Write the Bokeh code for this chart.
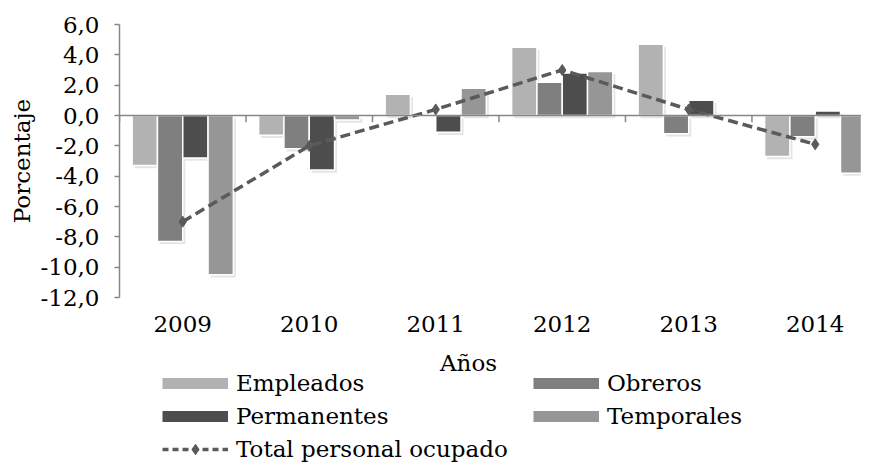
from bokeh.plotting import figure
from bokeh.layouts import column
from bokeh.models import Range1d, FixedTicker, Span, Legend, LegendItem, Label
from bokeh.embed import file_html
from bokeh.resources import INLINE

# ---- data ----
years = ["2009", "2010", "2011", "2012", "2013", "2014"]
empleados = [-3.3, -1.3, 1.4, 4.5, 4.7, -2.7]
obreros = [-8.3, -2.2, 0.0, 2.2, -1.2, -1.4]
permanentes = [-2.8, -3.6, -1.1, 2.8, 1.0, 0.3]
temporales = [-10.5, -0.3, 1.8, 2.9, 0.0, -3.8]
total = [-7.0, -2.0, 0.4, 3.0, 0.4, -1.9]
series_names = ["Empleados", "Obreros", "Permanentes", "Temporales"]
line_name = "Total personal ocupado"
y_ticks = [-12, -10, -8, -6, -4, -2, 0, 2, 4, 6]
y_tick_labels = ["-12,0", "-10,0", "-8,0", "-6,0", "-4,0", "-2,0", "0,0", "2,0", "4,0", "6,0"]
x_title = "Años"
y_title = "Porcentaje"

# ---- style ----
FONT = "DejaVu Serif"
FS = "23px"
bar_colors = ["#b2b2b2", "#7f7f7f", "#4d4d4d", "#969696"]
line_color = "#5a5a5a"
axis_color = "#878787"
W = 861
H_TOP = 345
H_BOT = 119
LEFT = 119

n = len(years)
centers = [i + 0.5 for i in range(n)]
bar_w = 0.2

p = figure(width=W, height=H_TOP,
           x_range=Range1d(0, 5.866), y_range=Range1d(-12, 6),
           output_backend="svg", toolbar_location=None,
           min_border_left=LEFT, min_border_right=0,
           min_border_top=24, min_border_bottom=48)
p.outline_line_color = None
p.xgrid.visible = False
p.ygrid.visible = False

all_series = [empleados, obreros, permanentes, temporales]
for k, vals in enumerate(all_series):
    xs = [c + (k - 1.5) * bar_w for c in centers]
    # soft shadow
    p.vbar(x=[x + 0.02 for x in xs], top=[v - 0.18 for v in vals],
           bottom=-0.18, width=bar_w, fill_color="black", fill_alpha=0.10, line_color=None)
for k, (vals, col) in enumerate(zip(all_series, bar_colors)):
    xs = [c + (k - 1.5) * bar_w for c in centers]
    p.vbar(x=xs, top=vals, bottom=0, width=bar_w, fill_color=col,
           line_color="white", line_width=1.5)

# horizontal axis at zero with category tick marks
p.add_layout(Span(location=0, dimension="width", line_color=axis_color, line_width=1.5))
bounds = list(range(n + 1))
p.segment(x0=bounds, y0=[0] * len(bounds), x1=bounds, y1=[-0.45] * len(bounds),
          line_color=axis_color, line_width=1.5)

p.line(centers, total, line_color=line_color, line_width=3.5, line_dash="10 5")
p.scatter(centers, total, marker="diamond", size=11, color=line_color)

# axes
ya = p.yaxis[0]
ya.ticker = FixedTicker(ticks=y_ticks)
ya.major_label_overrides = dict(zip(y_ticks, y_tick_labels))
ya.axis_line_color = axis_color
ya.axis_line_width = 1.5
ya.major_tick_line_color = axis_color
ya.major_tick_line_width = 1.5
ya.major_tick_out = 5
ya.major_tick_in = 0
ya.minor_tick_line_color = None
ya.major_label_standoff = 15
ya.major_label_text_font = FONT
ya.major_label_text_font_size = FS
ya.major_label_text_color = "black"
ya.axis_label = y_title
ya.axis_label_text_font = FONT
ya.axis_label_text_font_size = FS
ya.axis_label_text_font_style = "normal"
ya.axis_label_text_color = "black"
ya.axis_label_standoff = 3

xa = p.xaxis[0]
xa.ticker = FixedTicker(ticks=centers)
xa.major_label_overrides = dict(zip(centers, years))
xa.axis_line_color = None
xa.major_tick_line_color = None
xa.minor_tick_line_color = None
xa.major_label_standoff = 12
xa.major_label_text_font = FONT
xa.major_label_text_font_size = FS
xa.major_label_text_color = "black"

# ---- lower panel: axis title and legend (its frame is aligned with the chart frame) ----
p2 = figure(width=W, height=H_BOT, x_range=Range1d(LEFT, W), y_range=Range1d(H_BOT, 0),
            output_backend="svg", toolbar_location=None,
            min_border_left=LEFT, min_border_right=0, min_border_top=0, min_border_bottom=0)
p2.axis.visible = False
p2.xgrid.visible = False
p2.ygrid.visible = False
p2.outline_line_color = None

# legend-only renderers (one point placed outside the visible range)
items = []
for name, col in zip(series_names, bar_colors):
    r = p2.line(x=[-1000], y=[-1000], line_color=col, line_width=11)
    items.append(LegendItem(label=name, renderers=[r]))
lr = p2.line(x=[-1000, -999], y=[-1000, -1000], line_color=line_color, line_width=3.5,
             line_dash="6 4")
mr = p2.scatter(x=[-1000], y=[-1000], marker="diamond", size=10, color=line_color)
items.append(LegendItem(label=line_name, renderers=[lr, mr]))

legend = Legend(items=items, location=(43, 2), orientation="horizontal", ncols=2,
                glyph_width=66, glyph_height=26, label_height=26, label_width=290,
                spacing=7, padding=0, margin=0, border_line_color=None,
                background_fill_alpha=0, label_text_font=FONT, label_text_font_size=FS,
                label_standoff=8, label_text_color="black")
p2.add_layout(legend)

p2.add_layout(Label(x=468, y=17, text=x_title, text_align="center",
                    text_baseline="alphabetic", text_font=FONT, text_font_size=FS,
                    text_color="black"))

layout = column(p, p2, spacing=0)
open("out.html", "w").write(file_html(layout, INLINE))
